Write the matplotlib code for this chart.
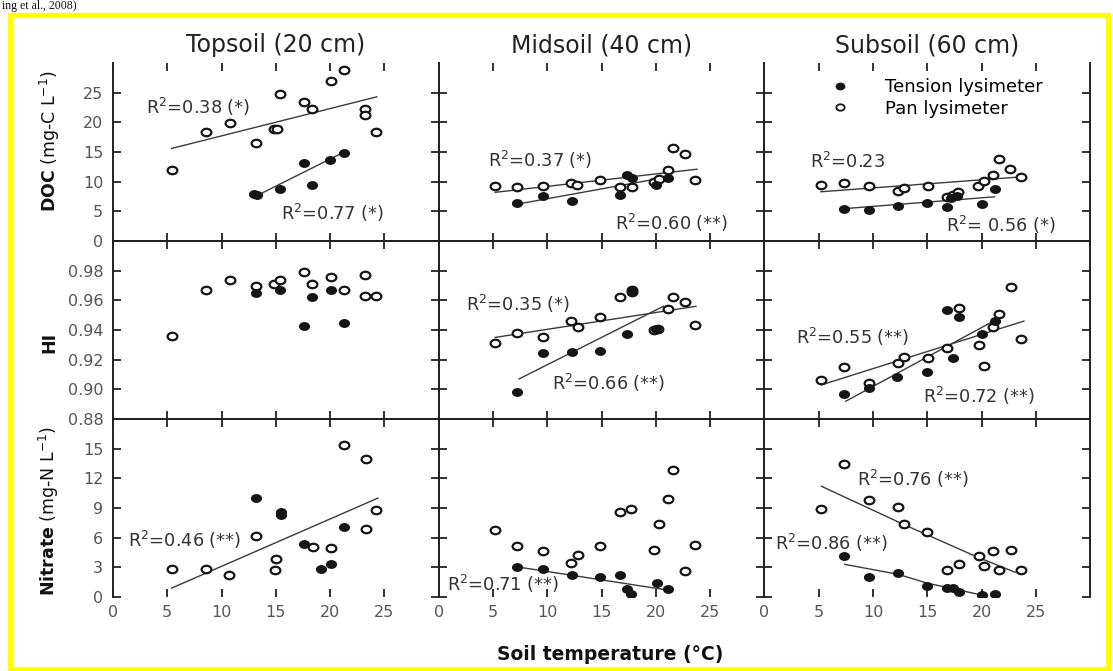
import numpy as np
import matplotlib
matplotlib.use("Agg")
import matplotlib.pyplot as plt
from matplotlib.path import Path
from matplotlib.transforms import Affine2D
from matplotlib.lines import Line2D
import matplotlib.patches as mpatches

# ---------------- data ----------------
depth_titles = ["Topsoil (20 cm)", "Midsoil (40 cm)", "Subsoil (60 cm)"]
x_ticks = [0, 5, 10, 15, 20, 25]
doc_ticks = [0, 5, 10, 15, 20, 25]
hi_ticks = [0.88, 0.90, 0.92, 0.94, 0.96, 0.98]
hi_ticklabels = ["0.88", "0.90", "0.92", "0.94", "0.96", "0.98"]
no3_ticks = [0, 3, 6, 9, 12, 15]
legend_labels = ["Tension lysimeter", "Pan lysimeter"]

# DOC (mg-C L-1)
doc_top_pan_t = [5.4, 8.6, 10.8, 13.2, 14.8, 15.1, 15.4, 17.6, 18.3, 20.1, 21.3, 23.2, 23.2, 24.2]
doc_top_pan_v = [12.0, 18.3, 19.9, 16.5, 18.8, 18.9, 24.8, 23.5, 22.2, 26.9, 28.9, 22.2, 21.3, 18.3]
doc_top_ten_t = [13.0, 13.3, 15.4, 17.6, 18.3, 20.0, 21.3]
doc_top_ten_v = [7.9, 7.8, 8.7, 13.2, 9.5, 13.7, 14.8]
doc_top_pan_fit_t, doc_top_pan_fit_v = [5.4, 24.3], [15.6, 24.3]
doc_top_ten_fit_t, doc_top_ten_fit_v = [13.2, 21.3], [7.6, 15.0]

doc_mid_pan_t = [5.2, 7.2, 9.6, 12.2, 12.7, 14.9, 16.7, 17.8, 19.8, 20.3, 21.1, 21.6, 22.7, 23.6]
doc_mid_pan_v = [9.3, 9.1, 9.3, 9.7, 9.5, 10.2, 9.1, 9.1, 9.9, 10.5, 12.0, 15.6, 14.6, 10.2]
doc_mid_ten_t = [7.2, 9.6, 12.3, 16.7, 17.3, 17.8, 20.0, 21.1]
doc_mid_ten_v = [6.4, 7.6, 6.8, 7.8, 11.2, 10.6, 9.5, 10.7]
doc_mid_pan_fit_t, doc_mid_pan_fit_v = [5.2, 23.8], [8.2, 12.1]
doc_mid_ten_fit_t, doc_mid_ten_fit_v = [7.2, 21.1], [6.2, 10.8]

doc_sub_pan_t = [5.2, 7.3, 9.6, 12.3, 12.9, 15.1, 16.8, 17.4, 17.8, 19.7, 20.2, 21.1, 21.6, 22.6, 23.6]
doc_sub_pan_v = [9.4, 9.7, 9.2, 8.5, 9.0, 9.2, 7.4, 7.7, 8.3, 9.2, 10.1, 11.2, 13.8, 12.2, 10.8]
doc_sub_ten_t = [7.3, 9.6, 12.3, 15.0, 16.8, 17.2, 17.7, 20.0, 21.2]
doc_sub_ten_v = [5.4, 5.2, 5.9, 6.4, 5.8, 7.3, 7.6, 6.3, 8.7]
doc_sub_pan_fit_t, doc_sub_pan_fit_v = [5.2, 23.6], [8.3, 10.8]
doc_sub_ten_fit_t, doc_sub_ten_fit_v = [7.0, 21.2], [5.4, 7.45]

# HI
hi_top_pan_t = [5.4, 8.6, 10.8, 13.2, 14.8, 15.4, 17.6, 18.3, 20.1, 21.3, 23.2, 23.2, 24.2]
hi_top_pan_v = [0.936, 0.967, 0.974, 0.970, 0.971, 0.974, 0.979, 0.971, 0.976, 0.967, 0.977, 0.963, 0.963]
hi_top_ten_t = [13.2, 15.4, 17.6, 18.3, 20.1, 21.3]
hi_top_ten_v = [0.965, 0.967, 0.943, 0.962, 0.967, 0.945]

hi_mid_pan_t = [5.2, 7.2, 9.6, 12.2, 12.8, 14.9, 16.7, 17.8, 17.8, 19.8, 20.2, 21.1, 21.6, 22.7, 23.6]
hi_mid_pan_v = [0.9315, 0.938, 0.935, 0.946, 0.942, 0.949, 0.9625, 0.967, 0.9655, 0.940, 0.941, 0.954, 0.9625, 0.959, 0.9435]
hi_mid_ten_t = [7.2, 9.6, 12.3, 14.9, 17.3, 17.8, 20.0]
hi_mid_ten_v = [0.898, 0.9245, 0.925, 0.926, 0.937, 0.966, 0.941]
hi_mid_pan_fit_t, hi_mid_pan_fit_v = [5.2, 23.7], [0.935, 0.956]
hi_mid_ten_fit_t, hi_mid_ten_fit_v = [7.4, 20.7], [0.907, 0.956]

hi_sub_pan_t = [5.2, 7.3, 9.6, 12.3, 12.9, 15.1, 16.8, 17.9, 19.75, 20.2, 21.1, 21.6, 22.7, 23.6]
hi_sub_pan_v = [0.9066, 0.915, 0.904, 0.9175, 0.922, 0.921, 0.928, 0.955, 0.930, 0.916, 0.942, 0.951, 0.969, 0.934]
hi_sub_ten_t = [7.3, 9.6, 12.2, 15.0, 16.8, 17.4, 17.9, 20.0, 21.2]
hi_sub_ten_v = [0.8966, 0.901, 0.908, 0.912, 0.9536, 0.921, 0.949, 0.937, 0.946]
hi_sub_pan_fit_t, hi_sub_pan_fit_v = [5.25, 23.9], [0.903, 0.946]
hi_sub_ten_fit_t, hi_sub_ten_fit_v = [7.5, 21.6], [0.892, 0.948]

# Nitrate (mg-N L-1)
no3_top_pan_t = [5.4, 8.6, 10.7, 13.2, 14.9, 15.0, 18.4, 20.1, 21.3, 23.3, 23.3, 24.2]
no3_top_pan_v = [2.8, 2.8, 2.2, 6.2, 2.7, 3.8, 5.1, 5.0, 15.4, 14.0, 6.85, 8.8]
no3_top_ten_t = [13.2, 15.5, 15.5, 17.6, 19.2, 20.1, 21.3]
no3_top_ten_v = [10.0, 8.6, 8.3, 5.4, 2.8, 3.3, 7.1]
no3_top_pan_fit_t, no3_top_pan_fit_v = [5.4, 24.4], [0.9, 10.0]

no3_mid_pan_t = [5.2, 7.2, 9.6, 12.2, 12.8, 14.9, 16.7, 17.7, 19.8, 20.3, 21.1, 21.6, 22.7, 23.6]
no3_mid_pan_v = [6.75, 5.2, 4.7, 3.45, 4.2, 5.2, 8.6, 8.9, 4.8, 7.35, 9.9, 12.8, 2.65, 5.3]
no3_mid_ten_t = [7.2, 9.6, 12.3, 14.9, 16.7, 17.3, 17.7, 20.1, 21.1]
no3_mid_ten_v = [3.05, 2.8, 2.2, 2.05, 2.2, 0.8, 0.27, 1.4, 0.8]
no3_mid_ten_fit_t, no3_mid_ten_fit_v = [7.2, 21.1], [3.05, 0.7]

no3_sub_pan_t = [5.2, 7.3, 9.6, 12.3, 12.9, 15.0, 16.8, 17.9, 19.75, 20.2, 21.1, 21.6, 22.7, 23.6]
no3_sub_pan_v = [8.9, 13.4, 9.8, 9.1, 7.4, 6.6, 2.7, 3.3, 4.1, 3.15, 4.7, 2.7, 4.8, 2.7]
no3_sub_ten_t = [7.3, 9.6, 12.3, 15.0, 16.8, 17.4, 17.9, 20.0, 21.2]
no3_sub_ten_v = [4.1, 2.05, 2.4, 1.15, 0.9, 0.9, 0.55, 0.2, 0.35]
no3_sub_pan_fit_t, no3_sub_pan_fit_v = [5.25, 12.9, 19.7, 23.1], [11.2, 7.3, 4.0, 2.5]
no3_sub_ten_fit_t, no3_sub_ten_fit_v = [7.4, 12.3, 15.0, 20.3], [3.3, 2.3, 1.4, 0.13]

# ---------------- figure ----------------
plt.rcParams['font.family'] = ['DejaVu Sans']
plt.rcParams['mathtext.fontset'] = 'dejavusans'

W, H = 1113, 671
fig = plt.figure(figsize=(W / 100, H / 100), dpi=100)
fig.patch.set_facecolor('white')

ell = Path.unit_circle().transformed(Affine2D().scale(1.3, 1.0))
INK = '#151515'
LINE = '#3a3a3a'

x_left, col_w = 113, 325.7
y_top, row_h = 63, 178


def px_axes(col, row):
    l = (x_left + col * col_w) / W
    b = 1 - (y_top + (row + 1) * row_h) / H
    return fig.add_axes([l, b, col_w / W, row_h / H])


def pan(ax, t, v):
    ax.plot(t, v, ls='none', marker=ell, ms=7.0, mfc='white', mec=INK, mew=1.6, zorder=4)


def ten(ax, t, v):
    ax.plot(t, v, ls='none', marker=ell, ms=7.0, mfc=INK, mec=INK, mew=1.0, zorder=5)


def fit(ax, t, v):
    ax.plot(t, v, color=LINE, lw=1.0, zorder=3)


def note(ax, x, y, s):
    ax.text(x, y, s, fontsize=12.8, color='#333333', ha='left', va='center', zorder=6)


rows_ylim = [(0, 30), (0.88, 1.00), (0, 18)]
rows_ticks = [doc_ticks, hi_ticks, no3_ticks]
rows_ticklabels = [[str(v) for v in doc_ticks], hi_ticklabels, [str(v) for v in no3_ticks]]

axes = [[None] * 3 for _ in range(3)]
for r in range(3):
    for c in range(3):
        ax = px_axes(c, r)
        axes[r][c] = ax
        ax.set_xlim(0, 30)
        ax.set_ylim(*rows_ylim[r])
        ax.set_xticks(x_ticks)
        ax.set_xticklabels([str(v) for v in x_ticks])
        ax.set_yticks(rows_ticks[r])
        ax.set_yticklabels(rows_ticklabels[r])
        ax.tick_params(axis='both', direction='in', top=True, right=True, bottom=True, left=True,
                       length=6, width=1.3, color='#222222', labelsize=11.5, labelcolor='#555555')
        ax.tick_params(axis='y', pad=7)
        ax.tick_params(axis='x', pad=6)
        for s in ax.spines.values():
            s.set_linewidth(1.4)
            s.set_color('#222222')
        if r == 0:
            ax.spines['top'].set_visible(False)
        if r == 2:
            ax.spines['bottom'].set_visible(False)
        if c > 0:
            ax.tick_params(labelleft=False)
        if r < 2:
            ax.tick_params(labelbottom=False)
        ax.patch.set_alpha(0)

# DOC row
a = axes[0][0]
pan(a, doc_top_pan_t, doc_top_pan_v); ten(a, doc_top_ten_t, doc_top_ten_v)
fit(a, doc_top_pan_fit_t, doc_top_pan_fit_v); fit(a, doc_top_ten_fit_t, doc_top_ten_fit_v)
note(a, 3.0, 22.6, r'R$^2$=0.38 (*)'); note(a, 15.5, 4.8, r'R$^2$=0.77 (*)')

a = axes[0][1]
pan(a, doc_mid_pan_t, doc_mid_pan_v); ten(a, doc_mid_ten_t, doc_mid_ten_v)
fit(a, doc_mid_pan_fit_t, doc_mid_pan_fit_v); fit(a, doc_mid_ten_fit_t, doc_mid_ten_fit_v)
note(a, 4.5, 13.6, r'R$^2$=0.37 (*)'); note(a, 16.2, 3.1, r'R$^2$=0.60 (**)')

a = axes[0][2]
pan(a, doc_sub_pan_t, doc_sub_pan_v); ten(a, doc_sub_ten_t, doc_sub_ten_v)
fit(a, doc_sub_pan_fit_t, doc_sub_pan_fit_v); fit(a, doc_sub_ten_fit_t, doc_sub_ten_fit_v)
note(a, 4.2, 13.3, r'R$^2$=0.23'); note(a, 16.75, 2.7, r'R$^2$= 0.56 (*)')

# HI row
a = axes[1][0]
pan(a, hi_top_pan_t, hi_top_pan_v); ten(a, hi_top_ten_t, hi_top_ten_v)

a = axes[1][1]
pan(a, hi_mid_pan_t, hi_mid_pan_v); ten(a, hi_mid_ten_t, hi_mid_ten_v)
fit(a, hi_mid_pan_fit_t, hi_mid_pan_fit_v); fit(a, hi_mid_ten_fit_t, hi_mid_ten_fit_v)
note(a, 2.5, 0.9576, r'R$^2$=0.35 (*)'); note(a, 10.4, 0.904, r'R$^2$=0.66 (**)')

a = axes[1][2]
pan(a, hi_sub_pan_t, hi_sub_pan_v); ten(a, hi_sub_ten_t, hi_sub_ten_v)
fit(a, hi_sub_pan_fit_t, hi_sub_pan_fit_v); fit(a, hi_sub_ten_fit_t, hi_sub_ten_fit_v)
note(a, 2.9, 0.9352, r'R$^2$=0.55 (**)'); note(a, 14.6, 0.8954, r'R$^2$=0.72 (**)')

# Nitrate row
a = axes[2][0]
pan(a, no3_top_pan_t, no3_top_pan_v); ten(a, no3_top_ten_t, no3_top_ten_v)
fit(a, no3_top_pan_fit_t, no3_top_pan_fit_v)
note(a, 1.4, 5.74, r'R$^2$=0.46 (**)')

a = axes[2][1]
pan(a, no3_mid_pan_t, no3_mid_pan_v); ten(a, no3_mid_ten_t, no3_mid_ten_v)
fit(a, no3_mid_ten_fit_t, no3_mid_ten_fit_v)
note(a, 0.8, 1.3, r'R$^2$=0.71 (**)')

a = axes[2][2]
pan(a, no3_sub_pan_t, no3_sub_pan_v); ten(a, no3_sub_ten_t, no3_sub_ten_v)
fit(a, no3_sub_pan_fit_t, no3_sub_pan_fit_v); fit(a, no3_sub_ten_fit_t, no3_sub_ten_fit_v)
note(a, 8.5, 11.95, r'R$^2$=0.76 (**)'); note(a, 1.0, 5.47, r'R$^2$=0.86 (**)')

# legend
handles = [Line2D([], [], ls='none', marker=ell, ms=6.0, mfc=INK, mec=INK, mew=1.0),
           Line2D([], [], ls='none', marker=ell, ms=6.0, mfc='white', mec=INK, mew=1.3)]
axes[0][2].legend(handles, legend_labels, loc='upper left', bbox_to_anchor=(0.205, 0.915),
                  frameon=False, fontsize=13, handlelength=1.0, handletextpad=2.0,
                  borderpad=0, borderaxespad=0, labelspacing=0.2)

# column titles
for c, title in enumerate(depth_titles):
    fig.text((x_left + (c + 0.5) * col_w) / W, 1 - 45 / H, title, fontsize=17,
             color='#222222', ha='center', va='center')

# row labels
fig.text(50 / W, 1 - 141 / H, r'$\mathbf{DOC}$ (mg-C L$^{-1}$)', rotation=90,
         fontsize=12.5, ha='center', va='center', color='#111111')
fig.text(49 / W, 1 - 342 / H, 'HI', rotation=90, fontsize=12.5, fontweight='bold',
         ha='center', va='center', color='#111111')
fig.text(49 / W, 1 - 511 / H, r'$\mathbf{Nitrate}$ (mg-N L$^{-1}$)', rotation=90,
         fontsize=12.5, ha='center', va='center', color='#111111')

# x label
fig.text(610 / W, 1 - 655 / H, 'Soil temperature (°C)', fontsize=13.5, fontweight='bold',
         ha='center', va='center', color='#111111')

# caption fragment at the very top
fig.text(2 / W, 1 - 8.5 / H, 'ing et al., 2008)', fontsize=8.5, family='Liberation Serif',
         ha='left', va='baseline', color='#111111')

# yellow frame
fig.patches.append(mpatches.Rectangle((9.5 / W, 1 - 668.5 / H), (1107.5 - 9.5) / W, (668.5 - 15) / H,
                                      transform=fig.transFigure, fill=False,
                                      edgecolor='#ffff00', linewidth=3.8, zorder=0))

fig.savefig('out.png', dpi=100, facecolor='white')
